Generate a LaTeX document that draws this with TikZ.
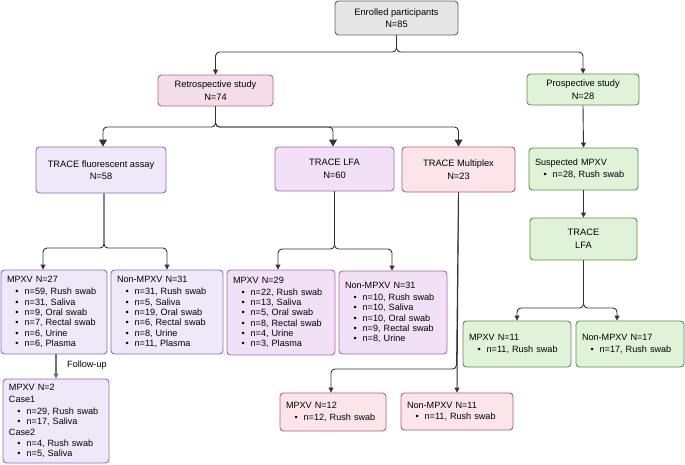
\documentclass[tikz,border=0pt]{standalone}
\usepackage{fontspec}
\setmainfont{Liberation Sans}
\usetikzlibrary{arrows.meta}
\definecolor{gfill}{HTML}{E6E6E6}\definecolor{gdraw}{HTML}{666666}
\definecolor{rfill}{HTML}{F4DDE8}\definecolor{rdraw}{HTML}{B4678A}
\definecolor{mfill}{HTML}{FBE4EA}\definecolor{mdraw}{HTML}{B75B72}
\definecolor{ffill}{HTML}{EEE8F9}\definecolor{fdraw}{HTML}{8C6CC0}
\definecolor{lfill}{HTML}{F2E0F7}\definecolor{ldraw}{HTML}{A466B5}
\definecolor{grfill}{HTML}{E0F2D8}\definecolor{grdraw}{HTML}{5B8E4B}
\definecolor{linec}{HTML}{333333}
\newcommand{\blt}{\hspace*{8.5pt}\textbullet\hspace{6pt}}
\tikzset{
  box/.style={draw, rounded corners=3.5pt, line width=0.9pt, inner ysep=0pt, text=black},
  tbox/.style={box, align=center, inner xsep=0pt, font=\fontsize{9.3}{12.5}\selectfont},
  lbox/.style={box, align=left, inner xsep=6pt, font=\fontsize{9.1}{10.3}\selectfont},
  gbox/.style={fill=gfill, draw=gdraw},
  rbox/.style={fill=rfill, draw=rdraw},
  mbox/.style={fill=mfill, draw=mdraw},
  fbox/.style={fill=ffill, draw=fdraw},
  lfbox/.style={fill=lfill, draw=ldraw},
  grbox/.style={fill=grfill, draw=grdraw},
  conn/.style={draw=linec, line width=0.9pt, rounded corners=4pt, -{Triangle[length=5pt,width=5pt]}},
  bigconn/.style={conn, -{Triangle[length=7pt,width=8pt]}},
  follow/.style={draw=black!55, line width=1.3pt, -{Triangle[length=5pt,width=5pt]}},
  lab/.style={font=\fontsize{9.1}{10.3}\selectfont, text=black, inner sep=0pt}
}
\begin{document}
\begin{tikzpicture}[x=1pt,y=-1pt]
\useasboundingbox (0,0) rectangle (685,464);
% top
\node[tbox, gbox, minimum width=123pt, minimum height=34pt] (enr) at (396.5,18) {Enrolled participants\\N=85};
\node[tbox, rbox, minimum width=115pt, minimum height=31pt] (retro) at (215.5,90.5) {Retrospective study\\N=74};
\node[tbox, grbox, minimum width=112pt, minimum height=31pt] (prosp) at (583,89.5) {Prospective study\\N=28};
% second row
\node[tbox, fbox, minimum width=130pt, minimum height=46pt] (fluor) at (101,170) {TRACE fluorescent assay\\N=58};
\node[tbox, lfbox, minimum width=119pt, minimum height=44pt] (lfa) at (334.5,169) {TRACE LFA\\N=60};
\node[tbox, mbox, minimum width=113pt, minimum height=45pt] (mult) at (458.5,169.5) {TRACE Multiplex\\N=23};
\node[lbox, grbox, text width=97pt, minimum height=42pt] (susp) at (583.5,169) {Suspected MPXV\\[1.5pt]\blt n=28, Rush swab};
\node[tbox, grbox, minimum width=107pt, minimum height=42pt, font=\fontsize{9.3}{13}\selectfont] (glfa) at (583.5,239) {TRACE\\LFA};
% third row
\node[lbox, fbox, text width=94pt, minimum height=84pt] (m27) at (54,312) {MPXV N=27\\[1.7pt]\blt n=59, Rush swab\\\blt n=31, Saliva\\\blt n=9, Oral swab\\\blt n=7, Rectal swab\\\blt n=6, Urine\\\blt n=6, Plasma};
\node[lbox, fbox, text width=100pt, minimum height=84pt] (n31a) at (167,312) {Non-MPXV N=31\\[1.7pt]\blt n=31, Rush swab\\\blt n=5, Saliva\\\blt n=19, Oral swab\\\blt n=6, Rectal swab\\\blt n=8, Urine\\\blt n=11, Plasma};
\node[lbox, lfbox, text width=96pt, minimum height=85pt] (m29) at (281,312.5) {MPXV N=29\\[1.7pt]\blt n=22, Rush swab\\\blt n=13, Saliva\\\blt n=5, Oral swab\\\blt n=8, Rectal swab\\\blt n=4, Urine\\\blt n=3, Plasma};
\node[lbox, lfbox, text width=96pt, minimum height=83pt] (n31b) at (393,312.5) {Non-MPXV N=31\\[1.7pt]\blt n=10, Rush swab\\\blt n=10, Saliva\\\blt n=10, Oral swab\\\blt n=9, Rectal swab\\\blt n=8, Urine};
\node[lbox, grbox, text width=96pt, minimum height=46pt] (m11) at (517,344) {MPXV N=11\\[1.5pt]\blt n=11, Rush swab};
\node[lbox, grbox, text width=96pt, minimum height=46pt] (n17) at (630,344) {Non-MPXV N=17\\[1.5pt]\blt n=17, Rush swab};
% bottom
\node[lbox, fbox, text width=94pt, minimum height=84pt] (m2) at (56,421) {MPXV N=2\\[1.5pt]Case1\\[1.5pt]\blt n=29, Rush swab\\\blt n=17, Saliva\\[0.5pt]Case2\\[0.5pt]\blt n=4, Rush swab\\\blt n=5, Saliva};
\node[lbox, mbox, text width=94pt, minimum height=38pt] (m12) at (333,412) {MPXV N=12\\[1.5pt]\blt n=12, Rush swab};
\node[lbox, mbox, text width=100pt, minimum height=37pt] (n11) at (457,411.5) {Non-MPXV N=11\\[1.5pt]\blt n=11, Rush swab};
\node[lab, anchor=west] (fu) at (67,365) {Follow-up};
% connectors
\draw[conn] (enr.south) -- (enr.south |- 0,52) -| (retro.north);
\draw[conn] (enr.south) -- (enr.south |- 0,52) -| (prosp.north);
\draw[bigconn] (retro.south) -- (retro.south |- 0,127) -| ([xshift=2pt]fluor.north);
\draw[bigconn] (retro.south) -- (retro.south |- 0,127) -| ([xshift=-1.5pt]lfa.north);
\draw[bigconn] (retro.south) -- (retro.south |- 0,127) -| (mult.north);
\draw[conn] (prosp.south) -- (susp.north);
\draw[conn] ([xshift=3pt]fluor.south) -- ([xshift=3pt]fluor.south |- 0,248) -| ([xshift=-11pt]m27.north);
\draw[conn] ([xshift=3pt]fluor.south) -- ([xshift=3pt]fluor.south |- 0,248) -| (n31a.north);
\draw[conn] (lfa.south) -- (lfa.south |- 0,249) -| ([xshift=-3pt]m29.north);
\draw[conn] (lfa.south) -- (lfa.south |- 0,249) -| ([xshift=-1pt]n31b.north);
\draw[conn] (mult.south) -- (n11.north);
\draw[conn] (mult.south) -- ([xshift=-2pt]mult.south |- 0,369) -| ([xshift=-2pt]m12.north);
\draw[conn] (susp.south) -- (glfa.north);
\draw[conn] (glfa.south) -- (glfa.south |- 0,308) -| (m11.north);
\draw[conn] (glfa.south) -- (glfa.south |- 0,308) -| ([xshift=-13pt]n17.north);
\draw[follow] (m2.north |- m27.south) -- (m2.north);
\end{tikzpicture}
\end{document}
